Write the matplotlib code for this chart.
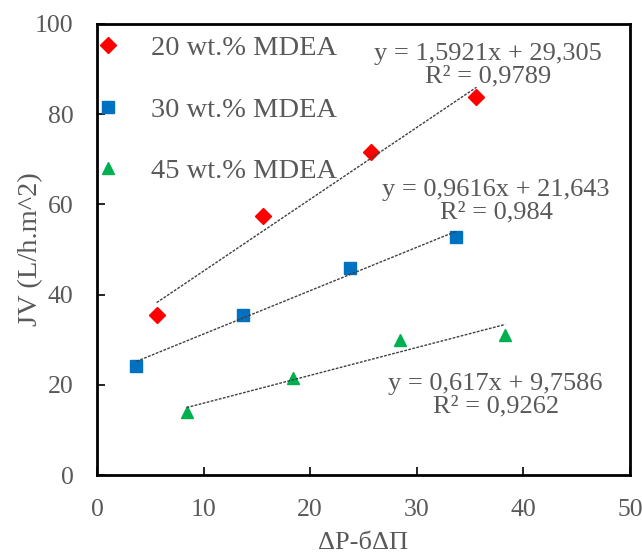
import matplotlib
matplotlib.use('Agg')
import matplotlib.pyplot as plt
import numpy as np

plt.rcParams['font.family'] = ['Liberation Serif', 'DejaVu Serif']

labels = ['20 wt.% MDEA', '30 wt.% MDEA', '45 wt.% MDEA']
x20 = [5.6, 15.6, 25.7, 35.6]
y20 = [35.5, 57.4, 71.6, 83.8]
x30 = [3.7, 13.7, 23.7, 33.7]
y30 = [24.2, 35.5, 45.9, 52.8]
x45 = [8.4, 18.4, 28.4, 38.3]
y45 = [14.0, 21.5, 29.9, 31.0]
slopes = [1.5921, 0.9616, 0.617]
intercepts = [29.305, 21.643, 9.7586]
eq_text = ['y = 1,5921x + 29,305\nR² = 0,9789',
           'y = 0,9616x + 21,643\nR² = 0,984',
           'y = 0,617x + 9,7586\nR² = 0,9262']
eq_pos = [(36.7, 90.9), (37.45, 60.75), (37.4, 17.7)]

gray = '#595959'
fig = plt.figure(figsize=(6.42, 5.59), dpi=100)
ax = fig.add_axes([97/642, 84/559, 533/642, 451/559])

series = [(x20, y20, '#FF0000', 'D', 8), (x30, y30, '#0070C0', 's', 9), (x45, y45, '#00B050', '^', 9)]
for (xs, ys, c, m, ms), lab, a, b in zip(series, labels, slopes, intercepts):
    ax.plot(xs, ys, linestyle='none', marker=m, color=c, markersize=ms, label=lab)
    # linear trendline across the data range
    xx = np.array([min(xs), max(xs)])
    ax.plot(xx, a * xx + b, linestyle=(0, (2, 1)), color='#404040', linewidth=1)

for t, (tx, ty) in zip(eq_text, eq_pos):
    ax.text(tx, ty, t, ha='center', va='center', fontsize=19, color=gray, linespacing=1.05)

ax.set_xlim(0, 50)
ax.set_ylim(0, 100)
ax.set_xticks(range(0, 51, 10))
ax.set_yticks(range(0, 101, 20))
ax.tick_params(direction='in', length=6, width=1.2, labelsize=18.5, labelcolor=gray, pad=17)
for s in ax.spines.values():
    s.set_linewidth(2)
ax.set_xlabel('ΔP-бΔΠ', fontsize=19, color=gray)
ax.set_ylabel('JV (L/h.m^2)', fontsize=20.5, color=gray)
ax.xaxis.set_label_coords(0.5, -0.127)
ax.yaxis.set_label_coords(-0.101, 0.5)

leg = ax.legend(loc='upper left', bbox_to_anchor=(0.0, 0.975), frameon=False, fontsize=20.5,
                labelspacing=1.25, handletextpad=1.15, handlelength=0.75,
                borderpad=0, borderaxespad=0)
for t in leg.get_texts():
    t.set_color(gray)

fig.savefig('out.png', dpi=100)
